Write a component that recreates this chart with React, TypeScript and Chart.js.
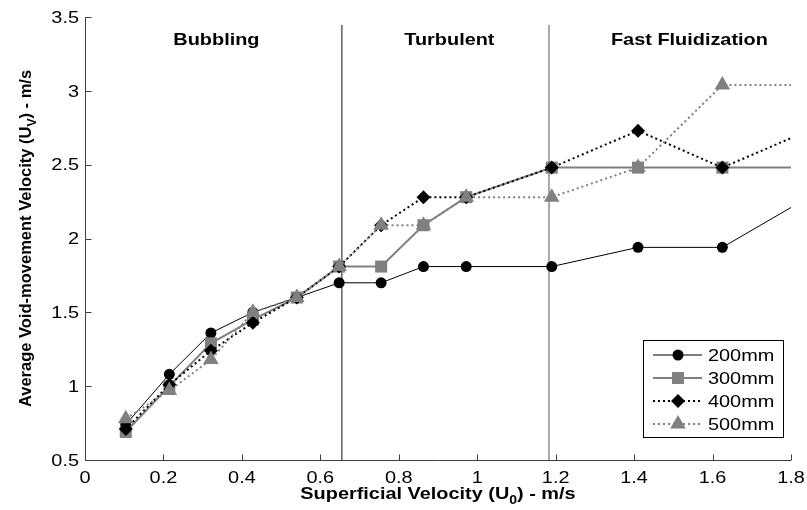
import React, { useEffect, useRef } from 'react';
import { Chart, registerables } from 'chart.js';

Chart.register(...registerables);

// ---- data ----
const xValues = [0.104, 0.215, 0.321, 0.428, 0.54, 0.648, 0.755, 0.863, 0.972, 1.19, 1.41, 1.625, 1.8];
const seriesNames = ['200mm', '300mm', '400mm', '500mm'];
const v200 = [0.74, 1.08, 1.36, 1.5, 1.6, 1.7, 1.7, 1.81, 1.81, 1.81, 1.94, 1.94, 2.21];
const v300 = [0.69, 1.0, 1.29, 1.45, 1.6, 1.81, 1.81, 2.09, 2.28, 2.48, 2.48, 2.48, 2.48];
const v400 = [0.71, 1.01, 1.24, 1.43, 1.6, 1.81, 2.09, 2.28, 2.28, 2.48, 2.73, 2.48, 2.68];
const v500 = [0.78, 0.97, 1.18, 1.5, 1.6, 1.81, 2.09, 2.09, 2.28, 2.28, 2.48, 3.04, 3.04];

const xTicks = [0, 0.2, 0.4, 0.6, 0.8, 1, 1.2, 1.4, 1.6, 1.8];
const xTickLabels = ['0', '0.2', '0.4', '0.6', '0.8', '1', '1.2', '1.4', '1.6', '1.8'];
const yTicks = [0.5, 1, 1.5, 2, 2.5, 3, 3.5];
const yTickLabels = ['0.5', '1', '1.5', '2', '2.5', '3', '3.5'];

const regionBounds = [0.655, 1.183];
const regionLineTop = 3.446;
const regionNames = ['Bubbling', 'Turbulent', 'Fast Fluidization'];
const regionCenters = [0.335, 0.929, 1.541];
const regionLabelY = 3.36;

const FONT = '"Liberation Sans", Arial, Helvetica, sans-serif';
const SX = 1.17;
const GRAY = '#808080';

type Style = { color: string; width: number; dash: number[]; marker: string; r: number };
const styles: Style[] = [
  { color: '#000000', width: 1, dash: [], marker: 'circle', r: 5.5 },
  { color: GRAY, width: 2, dash: [], marker: 'rect', r: 8.5 },
  { color: '#000000', width: 2, dash: [2, 3], marker: 'rectRot', r: 7 },
  { color: GRAY, width: 2, dash: [2, 3], marker: 'triangle', r: 9 },
];

function drawMarker(ctx: CanvasRenderingContext2D, kind: string, x: number, y: number, r: number, color: string) {
  ctx.save();
  ctx.fillStyle = color;
  ctx.setLineDash([]);
  ctx.beginPath();
  if (kind === 'circle') {
    ctx.arc(x, y, r, 0, Math.PI * 2);
  } else if (kind === 'rect') {
    const s = r * Math.SQRT1_2;
    ctx.rect(x - s, y - s, 2 * s, 2 * s);
  } else if (kind === 'rectRot') {
    ctx.moveTo(x, y - r);
    ctx.lineTo(x + r, y);
    ctx.lineTo(x, y + r);
    ctx.lineTo(x - r, y);
    ctx.closePath();
  } else {
    for (let k = 0; k < 3; k++) {
      const ang = (k * 2 * Math.PI) / 3;
      const px = x + Math.sin(ang) * r;
      const py = y - Math.cos(ang) * r;
      if (k === 0) ctx.moveTo(px, py);
      else ctx.lineTo(px, py);
    }
    ctx.closePath();
  }
  ctx.fill();
  ctx.restore();
}

function text(ctx: CanvasRenderingContext2D, s: string, x: number, y: number, align: CanvasTextAlign, font: string, base: CanvasTextBaseline = 'alphabetic', sx = SX) {
  ctx.save();
  ctx.font = font;
  ctx.textAlign = align;
  ctx.textBaseline = base;
  ctx.translate(x, y);
  ctx.scale(sx, 1);
  ctx.fillText(s, 0, 0);
  ctx.restore();
}

type Part = { t: string; sub?: boolean };
function richCentered(ctx: CanvasRenderingContext2D, parts: Part[], mainFont: string, subFont: string, subDy: number, sx: number) {
  // draws centered at origin, baseline y = 0
  let total = 0;
  const widths = parts.map((p) => {
    ctx.font = p.sub ? subFont : mainFont;
    const w = ctx.measureText(p.t).width * sx;
    total += w;
    return w;
  });
  let x = -total / 2;
  parts.forEach((p, i) => {
    ctx.save();
    ctx.font = p.sub ? subFont : mainFont;
    ctx.textAlign = 'left';
    ctx.textBaseline = 'alphabetic';
    ctx.translate(x, p.sub ? subDy : 0);
    ctx.scale(sx, 1);
    ctx.fillText(p.t, 0, 0);
    ctx.restore();
    x += widths[i];
  });
}

const decor = {
  id: 'decor',
  afterDraw(chart: any) {
    const ctx: CanvasRenderingContext2D = chart.ctx;
    const xs = chart.scales.x;
    const ys = chart.scales.y;
    const a = chart.chartArea;
    ctx.save();
    ctx.fillStyle = '#000';

    // axes
    const L = Math.round(a.left) + 0.5;
    const B = Math.round(a.bottom) + 0.5;
    ctx.strokeStyle = '#404040';
    ctx.lineWidth = 1;
    ctx.setLineDash([]);
    ctx.beginPath();
    ctx.moveTo(L, a.top);
    ctx.lineTo(L, B);
    ctx.lineTo(a.right, B);
    xTicks.forEach((v) => {
      const px = Math.round(xs.getPixelForValue(v)) + 0.5;
      ctx.moveTo(px, B);
      ctx.lineTo(px, B - 6);
    });
    yTicks.forEach((v) => {
      const py = Math.round(ys.getPixelForValue(v)) + 0.5;
      ctx.moveTo(L, py);
      ctx.lineTo(L + 6, py);
    });
    ctx.stroke();

    // tick labels
    const tickFont = `17px ${FONT}`;
    xTicks.forEach((v, i) => {
      text(ctx, xTickLabels[i], xs.getPixelForValue(v), a.bottom + 23, 'center', tickFont);
    });
    yTicks.forEach((v, i) => {
      text(ctx, yTickLabels[i], a.left - 6, ys.getPixelForValue(v) + 1, 'right', tickFont, 'middle');
    });

    // x title
    ctx.save();
    ctx.translate((a.left + a.right) / 2, a.bottom + 39);
    richCentered(
      ctx,
      [{ t: 'Superficial Velocity (U' }, { t: '0', sub: true }, { t: ') - m/s' }],
      `bold 17px ${FONT}`,
      `bold 12px ${FONT}`,
      5,
      SX
    );
    ctx.restore();

    // y title
    ctx.save();
    ctx.translate(25, (a.top + a.bottom) / 2);
    ctx.rotate(-Math.PI / 2);
    ctx.translate(0, 6);
    richCentered(
      ctx,
      [{ t: 'Average Void-movement Velocity (U' }, { t: 'V', sub: true }, { t: ') - m/s' }],
      `bold 16.5px ${FONT}`,
      `bold 12px ${FONT}`,
      5,
      1
    );
    ctx.restore();

    // region labels
    regionNames.forEach((n, i) => {
      text(ctx, n, xs.getPixelForValue(regionCenters[i]), ys.getPixelForValue(regionLabelY) + 7, 'center', `bold 17px ${FONT}`);
    });

    // legend
    const lw = 140;
    const lh = 97;
    const lr = Math.round(a.right - 8);
    const lb = Math.round(a.bottom - 23);
    const lx = lr - lw;
    const ly = lb - lh;
    ctx.fillStyle = '#fff';
    ctx.fillRect(lx, ly, lw, lh);
    ctx.strokeStyle = '#000';
    ctx.lineWidth = 1;
    ctx.setLineDash([]);
    ctx.strokeRect(lx + 0.5, ly + 0.5, lw, lh);
    seriesNames.forEach((name, i) => {
      const st = styles[i];
      const yy = ly + 15 + i * 23;
      ctx.save();
      ctx.strokeStyle = st.color;
      ctx.lineWidth = st.width;
      ctx.setLineDash(st.dash);
      ctx.beginPath();
      ctx.moveTo(lx + 10, yy);
      ctx.lineTo(lx + 59, yy);
      ctx.stroke();
      ctx.restore();
      drawMarker(ctx, st.marker, lx + 35, yy, st.r, st.color);
      ctx.fillStyle = '#000';
      text(ctx, name, lx + 65, yy + 1, 'left', `17px ${FONT}`, 'middle');
    });

    ctx.restore();
  },
};

export default function App() {
  const ref = useRef<HTMLCanvasElement | null>(null);
  useEffect(() => {
    if (!ref.current) return;
    const series = [v200, v300, v400, v500];
    const last = xValues.length - 1;
    const datasets: any[] = series.map((vals, i) => {
      const st = styles[i];
      return {
        label: seriesNames[i],
        data: xValues.map((x, j) => ({ x, y: vals[j] })),
        borderColor: st.color,
        backgroundColor: st.color,
        borderWidth: st.width,
        borderDash: st.dash,
        pointStyle: st.marker,
        pointRadius: (c: any) => (c.dataIndex === last ? 0 : st.r),
        pointBorderWidth: 0,
        pointBackgroundColor: st.color,
        pointBorderColor: st.color,
        tension: 0,
        fill: false,
        order: 4 - i,
      };
    });
    regionBounds.forEach((b, i) => {
      datasets.push({
        label: 'bound' + i,
        data: [
          { x: b, y: 0.5 },
          { x: b, y: regionLineTop },
        ],
        borderColor: i === 0 ? '#111' : '#555',
        borderWidth: 1,
        pointRadius: 0,
        fill: false,
        order: 10,
      });
    });
    const chart = new Chart(ref.current, {
      type: 'line',
      data: { datasets },
      options: {
        animation: false,
        responsive: false,
        devicePixelRatio: 1,
        events: [],
        layout: { padding: { left: 85, top: 17, right: 16, bottom: 50 } },
        scales: {
          x: { type: 'linear', min: 0, max: 1.8, display: false },
          y: { type: 'linear', min: 0.5, max: 3.5, display: false },
        },
        plugins: { legend: { display: false }, tooltip: { enabled: false } },
      },
      plugins: [decor],
    } as any);
    return () => chart.destroy();
  }, []);
  return (
    <div style={{ position: 'absolute', left: 0, top: 0, width: 807, height: 510, background: '#fff' }}>
      <canvas ref={ref} width={807} height={510} style={{ width: 807, height: 510, display: 'block' }} />
    </div>
  );
}
